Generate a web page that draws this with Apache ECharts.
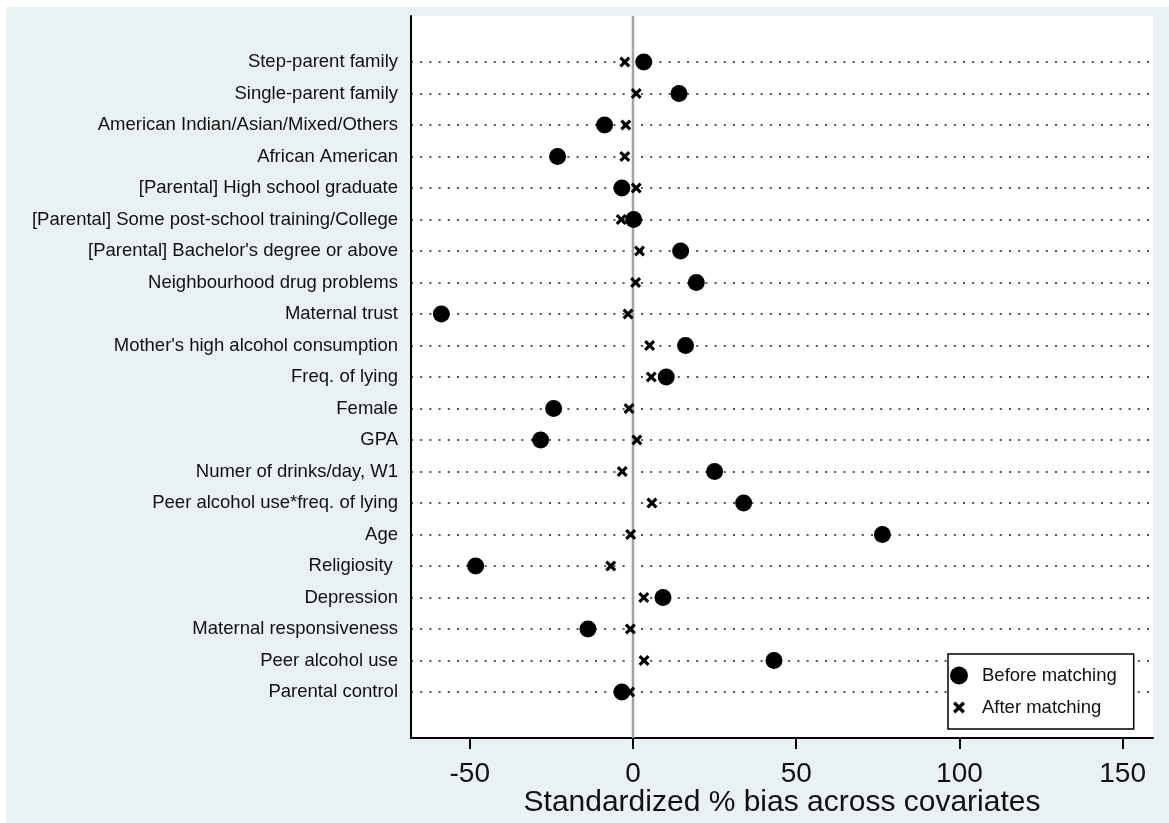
<!DOCTYPE html>
<html>
<head>
<meta charset="utf-8">
<script src="https://cdn.jsdelivr.net/npm/echarts@6/dist/echarts.min.js"></script>
<style>
  html, body { margin: 0; padding: 0; background: #fff; }
  #back { position: absolute; left: 6px; top: 7px; width: 1163px; height: 816px; background: #e9f1f3; }
  #main { position: absolute; left: 0; top: 0; width: 1169px; height: 823px; }
</style>
</head>
<body>
<div id="back"></div>
<div id="main"></div>
<script>
// covariates, top to bottom
var covariates = [
  'Step-parent family',
  'Single-parent family',
  'American Indian/Asian/Mixed/Others',
  'African American',
  '[Parental] High school graduate',
  '[Parental] Some post-school training/College',
  "[Parental] Bachelor's degree or above",
  'Neighbourhood drug problems',
  'Maternal trust',
  "Mother's high alcohol consumption",
  'Freq. of lying',
  'Female',
  'GPA',
  'Numer of drinks/day, W1',
  'Peer alcohol use*freq. of lying',
  'Age',
  'Religiosity ',
  'Depression',
  'Maternal responsiveness',
  'Peer alcohol use',
  'Parental control'
];
// standardized % bias
var beforeMatching = [3.3, 14.1, -8.7, -23.1, -3.4, 0.2, 14.6, 19.4, -58.7, 16.1, 10.2,
  -24.3, -28.3, 25.0, 33.9, 76.4, -48.2, 9.2, -13.8, 43.2, -3.4];
var afterMatching = [-2.5, 1.0, -2.2, -2.5, 1.0, -3.6, 2.0, 0.8, -1.5, 5.1, 5.6,
  -1.2, 1.2, -3.3, 5.8, -0.7, -6.8, 3.3, -0.8, 3.4, -1.0];
var xTicks = [-50, 0, 50, 100, 150];

var FONT = "'Liberation Sans', Arial, sans-serif";
var crossPath = 'path://M2,0 L5,3 L8,0 L10,2 L7,5 L10,8 L8,10 L5,7 L2,10 L0,8 L3,5 L0,2 Z';
// same cross with some empty room round it, so the legend draws it smaller
var crossIcon = 'path://M-2.5,-2.5 M12.5,12.5 M2,0 L5,3 L8,0 L10,2 L7,5 L10,8 L8,10 L5,7 L2,10 L0,8 L3,5 L0,2 Z';

// plot area in px, x range of the frame
var X_MIN = -68, X_MAX = 159.3;
var PLOT_L = 411, PLOT_R = 1153;
var pxPerUnit = (PLOT_R - PLOT_L) / (X_MAX - X_MIN);
var tickL = PLOT_L + (xTicks[0] - X_MIN) * pxPerUnit;
var tickR = PLOT_L + (xTicks[xTicks.length - 1] - X_MIN) * pxPerUnit;

var chart = echarts.init(document.getElementById('main'));

chart.setOption({
  backgroundColor: 'transparent',
  textStyle: { fontFamily: FONT },
  animation: false,
  grid: [
    // frame (white plot area, axes)
    { left: PLOT_L, right: 1169 - PLOT_R, top: 16, bottom: 85, show: true, backgroundColor: '#fff', borderWidth: 0,
      containLabel: false, outerBoundsMode: 'none' },
    // rows
    { left: PLOT_L, right: 1169 - PLOT_R, top: 62, bottom: 131, containLabel: false, outerBoundsMode: 'none' },
    // ticks -50..150
    { left: tickL, right: 1169 - tickR, top: 16, bottom: 85, containLabel: false, outerBoundsMode: 'none' }
  ],
  xAxis: [
    {
      gridIndex: 0, type: 'value', min: X_MIN, max: X_MAX,
      name: 'Standardized % bias across covariates',
      nameLocation: 'middle', nameGap: 50,
      nameTextStyle: { fontSize: 30, color: '#111', fontFamily: FONT },
      axisLine: { show: true, onZero: false, lineStyle: { color: '#000', width: 2 } },
      axisTick: { show: false }, axisLabel: { show: false },
      splitLine: { show: false }
    },
    { gridIndex: 1, type: 'value', min: X_MIN, max: X_MAX, show: false, splitLine: { show: false } },
    {
      gridIndex: 2, type: 'value', min: xTicks[0], max: xTicks[xTicks.length - 1], interval: 50,
      axisLine: { show: false, onZero: false },
      axisTick: { show: true, inside: false, length: 11, lineStyle: { color: '#000', width: 2 } },
      axisLabel: { fontSize: 28, color: '#111', margin: 22, fontFamily: FONT },
      splitLine: { show: false }
    }
  ],
  yAxis: [
    {
      gridIndex: 0, type: 'value', min: 0, max: 1,
      axisLine: { show: true, onZero: false, lineStyle: { color: '#000', width: 2 } },
      axisTick: { show: false }, axisLabel: { show: false }, splitLine: { show: false }
    },
    {
      gridIndex: 1, type: 'value', min: 0, max: covariates.length - 1, interval: 1, inverse: true,
      axisLine: { show: false, onZero: false }, axisTick: { show: false },
      axisLabel: {
        fontSize: 18.5, color: '#111', margin: 13, fontFamily: FONT,
        formatter: function (v) { return covariates[v] || ''; }
      },
      splitLine: { show: true, lineStyle: { color: '#555', width: 2, type: [2, 7.2] } }
    },
    { gridIndex: 2, type: 'value', show: false, splitLine: { show: false } }
  ],
  legend: {
    orient: 'vertical', left: 948, top: 654,
    padding: [12, 17, 12, 2], itemGap: 13, itemWidth: 36, itemHeight: 18,
    borderColor: '#000', borderWidth: 1.5, backgroundColor: '#fff',
    textStyle: { fontSize: 18.5, color: '#111', fontFamily: FONT },
    data: [
      { name: 'Before matching', icon: 'circle' },
      { name: 'After matching', icon: crossIcon }
    ]
  },
  series: [
    {
      name: 'zero', type: 'line', xAxisIndex: 0, yAxisIndex: 0,
      data: [[0, 0], [0, 1]], symbol: 'none', silent: true, z: 1,
      lineStyle: { color: '#a3a3a3', width: 2.5 }
    },
    {
      name: 'Before matching', type: 'scatter', xAxisIndex: 1, yAxisIndex: 1,
      data: beforeMatching.map(function (v, i) { return [v, i]; }),
      symbol: 'circle', symbolSize: 17, z: 3,
      itemStyle: { color: '#000', opacity: 1 }
    },
    {
      name: 'After matching', type: 'scatter', xAxisIndex: 1, yAxisIndex: 1,
      data: afterMatching.map(function (v, i) { return [v, i]; }),
      symbol: crossPath, symbolSize: 11, z: 4,
      itemStyle: { color: '#000', opacity: 1 }
    }
  ]
});
</script>
</body>
</html>
